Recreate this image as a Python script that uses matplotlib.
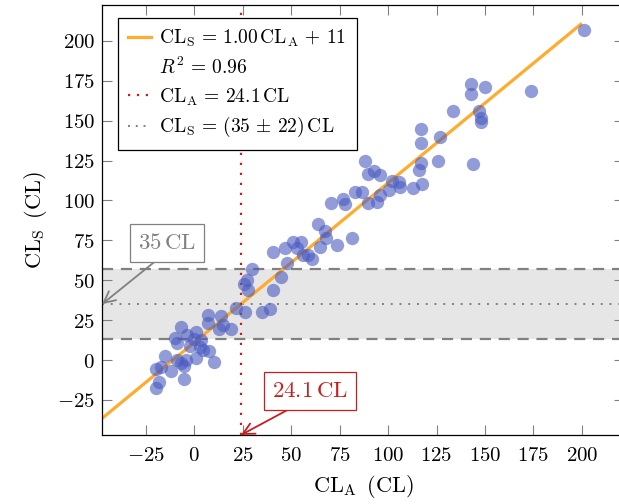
import matplotlib
matplotlib.use("Agg")
import matplotlib.pyplot as plt
from matplotlib.lines import Line2D
from matplotlib.ticker import FuncFormatter
import numpy as np

plt.rcParams['mathtext.fontset'] = 'cm'
plt.rcParams['font.family'] = ['DejaVu Serif']

# ---- data ----
cl_a = [-19.9, -18.2, -12.1, -17.3, -20.0, -14.9, -9.0, -6.9, -5.2, -4.3, -5.2, 0.9, 10.0,
        -10.0, -9.0, -6.9, -3.8, -2.3, 0.0, 0.9, 3.1, 4.4, 7.8, 3.5, 7.0, 7.0, 13.7, 13.0,
        15.0, 19.1, 21.7, 26.0, 34.7, 39.0,
        29.7, 27.4, 25.7, 27.8, 40.8, 44.8, 48.0, 40.8, 46.9, 50.7, 55.0, 53.0, 55.9, 58.7,
        60.8, 64.8, 73.8, 68.0, 67.7, 63.8, 81.6, 70.8, 76.9, 77.8, 82.8, 86.8, 88.0, 89.4,
        92.6, 96.0, 89.8, 94.1, 95.8, 100.7, 101.8, 105.6, 105.9, 112.9, 117.7, 116.0,
        116.9, 116.9, 116.9, 125.9, 126.9, 133.7, 143.8, 142.8, 142.8, 149.8, 146.9, 147.8,
        147.8, 173.8, 200.9]
cl_s = [-17.7, -13.8, -7.0, -4.1, -5.8, 2.3, 0.3, -2.0, -3.7, 0.1, -12.0, 1.1, -1.0,
        13.5, 10.5, 21.0, 15.5, 9.0, 13.0, 17.6, 8.4, 6.3, 5.9, 12.6, 28.3, 23.5, 27.8, 19.3,
        22.0, 19.4, 32.5, 30.2, 30.2, 32.0,
        57.1, 50.2, 47.7, 43.9, 43.9, 52.3, 61.1, 68.0, 70.1, 74.2, 74.2, 70.1, 65.9, 65.9,
        63.4, 70.6, 72.1, 76.3, 81.1, 85.1, 76.3, 98.3, 101.2, 97.8, 105.2, 105.2, 125.0, 116.6,
        118.7, 116.2, 98.3, 99.1, 103.5, 106.6, 112.2, 111.8, 108.4, 108.0, 110.2, 119.1,
        123.3, 135.9, 145.0, 125.0, 140.0, 156.0, 123.1, 173.0, 166.8, 171.0, 156.0, 151.5,
        149.0, 168.8, 207.0]

fit_slope = 1.00
fit_intercept = 11
r_squared = 0.96
threshold_a = 24.1
band_center = 35
band_half = 22
x_ticks = [-25, 0, 25, 50, 75, 100, 125, 150, 175, 200]
y_ticks = [-25, 0, 25, 50, 75, 100, 125, 150, 175, 200]
xlim = (-47.6, 221.7)
ylim = (-47.0, 222.5)

# ---- figure ----
fig = plt.figure(figsize=(6.19, 5.04), dpi=100)
ax = fig.add_axes([0.1648, 0.1369, 0.8432, 0.8532])
ax.set_xlim(*xlim)
ax.set_ylim(*ylim)

ax.axhspan(band_center - band_half, band_center + band_half, color='#e6e6e6', lw=0, zorder=0)
for yv in (band_center - band_half, band_center + band_half):
    ax.axhline(yv, color='#808080', lw=1.6, ls=(0, (5, 3.5)), zorder=1)
ax.axhline(band_center, color='#808080', lw=1.4, ls=(0, (1, 3.5)), zorder=1)

xs = np.array([xlim[0], 200.0])
ax.plot(xs, fit_slope * xs + fit_intercept, color='#ffab2e', lw=2.3, zorder=2,
        solid_capstyle='butt')
ax.axvline(threshold_a, color='#c81e1e', lw=1.6, ls=(0, (1, 3.5)), zorder=3)

ax.scatter(cl_a, cl_s, s=92, color='#4a5bbf', alpha=0.6, lw=0, zorder=4)

# ticks
ax.set_xticks(x_ticks)
ax.set_yticks(y_ticks)
fmt = FuncFormatter(lambda v, p: r'$%d$' % v)
ax.xaxis.set_major_formatter(fmt)
ax.yaxis.set_major_formatter(fmt)
ax.tick_params(direction='in', length=7.5, width=0.8, color='#808080',
               top=True, right=True, labelsize=15)
ax.tick_params(axis='x', pad=8)
ax.tick_params(axis='y', pad=5)
for s in ax.spines.values():
    s.set_linewidth(0.9)
    s.set_color('black')

ax.set_xlabel(r'$\mathrm{CL_A}\ \,\mathrm{(CL)}$', fontsize=16, labelpad=6)
ax.set_ylabel(r'$\mathrm{CL_S}\ \,\mathrm{(CL)}$', fontsize=16, labelpad=6)

# legend
handles = [
    Line2D([], [], color='#ffab2e', lw=2.3),
    Line2D([], [], color='none'),
    Line2D([], [], color='#c81e1e', lw=1.6, ls=(0, (1, 3))),
    Line2D([], [], color='#808080', lw=1.4, ls=(0, (1, 3))),
]
labels = [
    r'$\mathrm{CL_S}\,=\,%.2f\,\mathrm{CL_A}\,+\,%d$' % (fit_slope, fit_intercept),
    r'$R^2\,=\,%.2f$' % r_squared,
    r'$\mathrm{CL_A}\,=\,%.1f\,\mathrm{CL}$' % threshold_a,
    r'$\mathrm{CL_S}\,=\,(%d\,\pm\,%d)\,\mathrm{CL}$' % (band_center, band_half),
]
leg = ax.legend(handles, labels, loc='upper left', bbox_to_anchor=(0.031, 0.970),
                borderaxespad=0, fontsize=14.0, handlelength=1.15, handletextpad=0.45,
                labelspacing=0.4, borderpad=0.52, fancybox=False, framealpha=1,
                edgecolor='black')
leg.get_frame().set_linewidth(0.9)
leg.set_zorder(10)

# annotations
ax.annotate(r'$35\,\mathrm{CL}$', xy=(xlim[0], band_center), xycoords='data',
            xytext=(-14.2, 73.4), textcoords='data', ha='center', va='center',
            fontsize=16.5, color='#808080',
            bbox=dict(boxstyle='square,pad=0.35', fc='white', ec='#808080', lw=0.9),
            arrowprops=dict(arrowstyle='->,head_length=0.5,head_width=0.25', color='#808080',
                            lw=1.3, relpos=(0.46, 0.0), shrinkA=0, shrinkB=0),
            zorder=11, annotation_clip=False)
ax.annotate(r'$%.1f\,\mathrm{CL}$' % threshold_a, xy=(threshold_a, ylim[0]), xycoords='data',
            xytext=(59.7, -19.4), textcoords='data', ha='center', va='center',
            fontsize=16.5, color='#c81e1e',
            bbox=dict(boxstyle='square,pad=0.35', fc='white', ec='#c81e1e', lw=0.9),
            arrowprops=dict(arrowstyle='->,head_length=0.5,head_width=0.25', color='#c81e1e',
                            lw=1.3, relpos=(0.40, 0.0), shrinkA=0, shrinkB=0),
            zorder=11, annotation_clip=False)

fig.savefig('out.png', dpi=100)
